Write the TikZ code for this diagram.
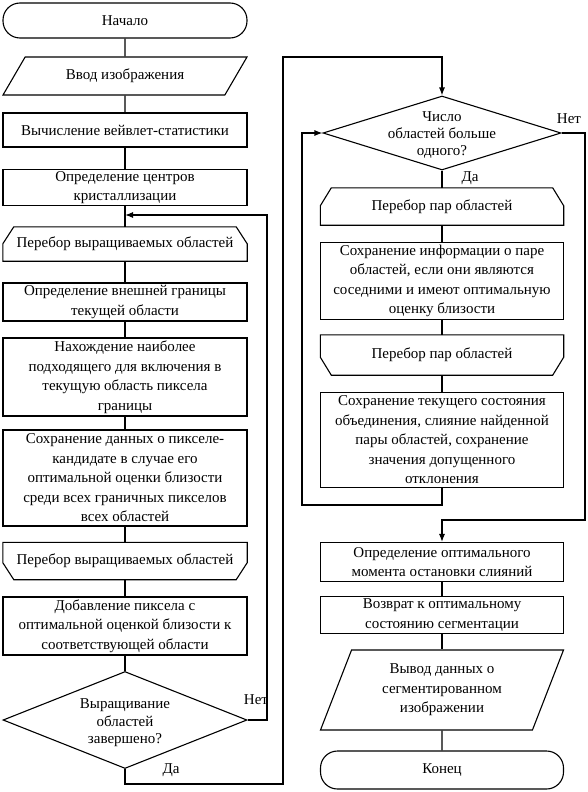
\documentclass[tikz,border=0pt]{standalone}
\usepackage{fontspec}
\setmainfont{Liberation Serif}
\usepackage{tikz}
\usetikzlibrary{arrows.meta,positioning,shapes.geometric,calc}

\begin{document}
\begin{tikzpicture}[x=1pt,y=-1pt,
    font=\fontsize{15pt}{19.5pt}\selectfont,
    block/.style={draw, rectangle, line width=1.1pt, minimum width=244pt, inner sep=2pt, align=center},
    terminal/.style={block, rounded corners=17pt},
    io/.style={draw, trapezium, trapezium stretches body, line width=1.1pt, minimum width=244pt, inner sep=2pt, align=center},
    cyclebox/.style={rectangle, minimum width=244pt, inner sep=2pt, align=center},
    decision/.style={draw, diamond, line width=1.1pt, inner sep=0pt},
    lbl/.style={inner sep=1pt},
    conn/.style={line width=1.1pt},
    arrowline/.style={conn, -{Latex[length=8pt,width=6pt]}}]
    \useasboundingbox (0,0) rectangle (587,792);
    % Left column
    \node[terminal, minimum height=35pt] (start) at (125,20.5) {Начало};
    \node[io, trapezium left angle=39, trapezium right angle=141, minimum height=38pt] (input) at (125,76) {Ввод изображения};
    \node[block, minimum height=34pt] (wavelet) at (125,130) {Вычисление вейвлет-статистики};
    \node[block, minimum height=36pt] (centers) at (125,187.5) {Определение центров\\кристаллизации};
    \node[cyclebox, minimum height=34pt] (grow) at (125,244) {Перебор выращиваемых областей};
    \node[block, minimum height=38pt] (border) at (125,302) {Определение внешней границы\\текущей области};
    \node[block, minimum height=78pt] (pick) at (125,377) {Нахождение наиболее\\подходящего для включения в\\текущую область пиксела\\границы};
    \node[block, minimum height=96pt] (candidate) at (125,478) {Сохранение данных о пикселе-\\кандидате в случае его\\оптимальной оценки близости\\среди всех граничных пикселов\\всех областей};
    \node[cyclebox, minimum height=37pt] (growend) at (125,561) {Перебор выращиваемых областей};
    \node[block, minimum height=58pt] (add) at (125,626) {Добавление пиксела с\\оптимальной оценкой близости к\\соответствующей области};
    \node[decision, minimum width=244pt, minimum height=97pt] (grown) at (125,720) {};
    \node[align=center, inner sep=0pt, font=\fontsize{15pt}{17.5pt}\selectfont] (grownlbl) at ([yshift=-3pt]grown.center) {Выращивание\\областей\\завершено?};
    % Right column
    \node[decision, minimum width=238pt, minimum height=74pt] (more) at (442,133) {};
    \node[align=center, inner sep=0pt, font=\fontsize{15pt}{17pt}\selectfont] (morelbl) at ([yshift=-2pt]more.center) {Число\\областей больше\\одного?};
    \node[cyclebox, minimum width=243pt, minimum height=37pt] (pairs) at (442,206.5) {Перебор пар областей};
    \node[block, minimum width=243pt, minimum height=77pt] (info) at (442,281) {Сохранение информации о паре\\областей, если они являются\\соседними и имеют оптимальную\\оценку близости};
    \node[cyclebox, minimum width=243pt, minimum height=40pt] (pairsend) at (442,355) {Перебор пар областей};
    \node[block, minimum width=243pt, minimum height=95pt] (merge) at (442,440) {Сохранение текущего состояния\\объединения, слияние найденной\\пары областей, сохранение\\значения допущенного\\отклонения};
    \node[block, minimum width=243pt, minimum height=39pt] (best) at (442,562) {Определение оптимального\\момента остановки слияний};
    \node[block, minimum width=243pt, minimum height=36pt] (back) at (442,615) {Возврат к оптимальному\\состоянию сегментации};
    \node[io, trapezium left angle=61, trapezium right angle=119, minimum width=243pt, minimum height=80pt] (output) at (442,690) {Вывод данных о\\сегментированном\\изображении};
    \node[terminal, minimum width=243pt, minimum height=38pt] (finish) at (442,770) {Конец};
    % Loop boundary outlines
    \draw[conn] ([yshift=-17pt]grow.north west) -- ([xshift=11pt]grow.north west) -- ([xshift=-11pt]grow.north east) -- ([yshift=-17pt]grow.north east) |- (grow.south west) -- cycle;
    \draw[conn] ([yshift=17pt]growend.south west) -- ([xshift=11pt]growend.south west) -- ([xshift=-11pt]growend.south east) -- ([yshift=17pt]growend.south east) |- (growend.north west) -- cycle;
    \draw[conn] ([yshift=-18pt]pairs.north west) -- ([xshift=11pt]pairs.north west) -- ([xshift=-11pt]pairs.north east) -- ([yshift=-18pt]pairs.north east) |- (pairs.south west) -- cycle;
    \draw[conn] ([yshift=18pt]pairsend.south west) -- ([xshift=11pt]pairsend.south west) -- ([xshift=-11pt]pairsend.south east) -- ([yshift=18pt]pairsend.south east) |- (pairsend.north west) -- cycle;
    % Branch labels
    \node[lbl] (grownno) at (256,700) {Нет};
    \node[lbl] (grownyes) at (171,770) {Да};
    \node[lbl] (moreno) at (569,119) {Нет};
    \node[lbl] (moreyes) at (470,178) {Да};
    % Turning points
    \coordinate (growin) at (125,215);
    \coordinate (noturn) at (267,720);
    \coordinate (yesturn) at (283,784);
    \coordinate (yestop) at (283,57);
    \coordinate (backturn) at (302,505);
    \coordinate (rightturn) at (585,520);
    \coordinate (bestin) at (442,520);
    % Connecting lines
    \draw[conn] (start) -- (input);
    \draw[conn] (input) -- (wavelet);
    \draw[conn] (wavelet) -- (centers);
    \draw[conn] (centers) -- (grow);
    \draw[conn] (grow) -- (border);
    \draw[conn] (border) -- (pick);
    \draw[conn] (pick) -- (candidate);
    \draw[conn] (candidate) -- (growend);
    \draw[conn] (growend) -- (add);
    \draw[conn] (add) -- (grown);
    \draw[arrowline] (grown.east) -- (noturn) |- (growin);
    \draw[arrowline] (grown.south) |- (yesturn) -- (yestop) -| (more.north);
    \draw[conn] (more.south) -- (pairs);
    \draw[conn] (pairs) -- (info);
    \draw[conn] (info) -- (pairsend);
    \draw[conn] (pairsend) -- (merge);
    \draw[arrowline] (merge.south) |- (backturn) |- (more.west);
    \draw[arrowline] (more.east) -| (rightturn) -- (bestin) -- (best.north);
    \draw[conn] (best) -- (back);
    \draw[conn] (back) -- (output);
    \draw[conn] (output) -- (finish);
\end{tikzpicture}
\end{document}
